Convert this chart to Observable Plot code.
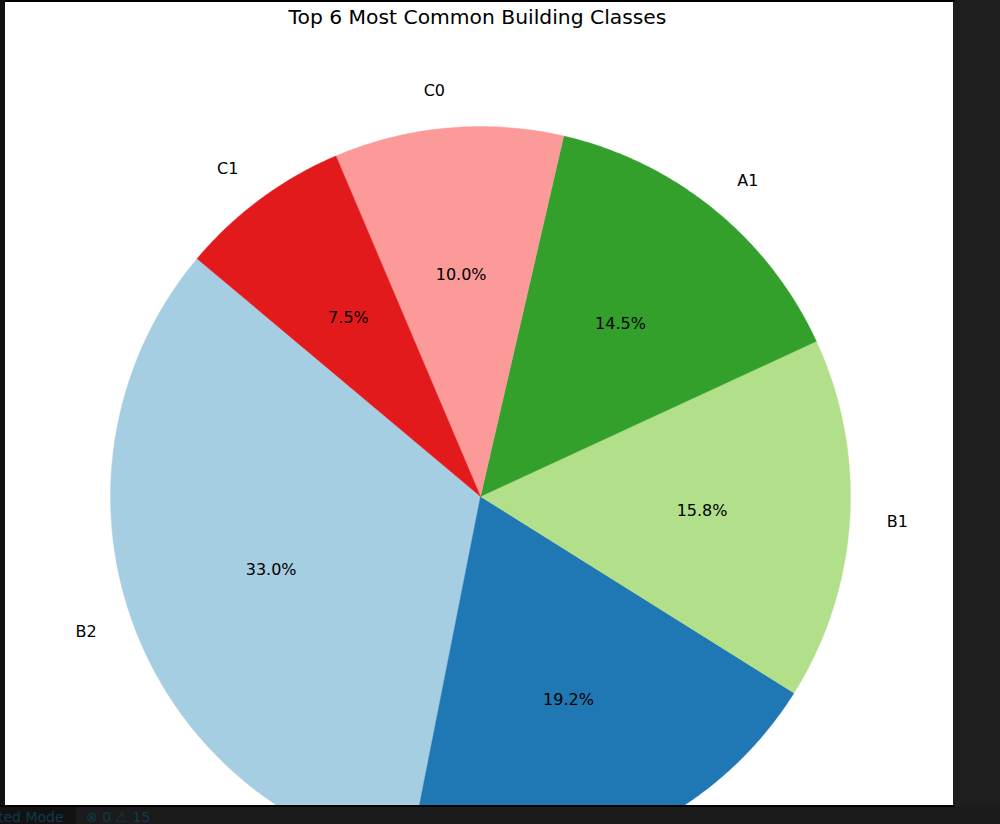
<!DOCTYPE html>
<html>
<head>
<meta charset="utf-8">
<script src="https://cdn.jsdelivr.net/npm/d3@7"></script>
<script src="https://cdn.jsdelivr.net/npm/@observablehq/plot@0.6"></script>
<style>
  html, body { margin: 0; padding: 0; }
  body { width: 1000px; height: 824px; background: #1e1e1e; position: relative; overflow: hidden; font-family: "DejaVu Sans", sans-serif; }
  #topline { position: absolute; left: 0; top: 0; width: 955px; height: 2px; background: #000; }
  #leftline { position: absolute; left: 0; top: 0; width: 5px; height: 807px; background: #111; }
  #panel { position: absolute; left: 5px; top: 2px; width: 948px; height: 803px; background: #fff; overflow: hidden; }
  #title { height: 32px; line-height: 31px; text-align: center; font-size: 20.3px; color: #000; padding-right: 3px; }
  #bottomline { position: absolute; left: 0; top: 805px; width: 955px; height: 2px; background: #000; }
  #status { position: absolute; left: 0; top: 807px; width: 1000px; height: 17px; background: #1b1b1b; font-size: 14px; line-height: 20px; color: #0e3a4c; overflow: hidden; }
  #status .a { position: absolute; left: 0; top: 0; width: 76px; height: 17px; background: #121212; overflow: hidden; }
  #status .a span { position: absolute; left: -2px; white-space: nowrap; }
  #status .b { position: absolute; left: 86px; top: 0; white-space: nowrap; }
  svg { display: block; }
</style>
</head>
<body>
<div id="topline"></div>
<div id="leftline"></div>
<div id="panel">
  <div id="title">Top 6 Most Common Building Classes</div>
  <div id="chart"></div>
</div>
<div id="bottomline"></div>
<div id="status"><div class="a"><span>ted Mode</span></div><div class="b">⊗ 0 ⚠ 15</div></div>
<script>
// Data
const classes = ["B2", "B3", "B1", "A1", "C0", "C1"];
const shares = [33.0, 19.2, 15.8, 14.5, 10.0, 7.5];
const colors = ["#a6cee3", "#1f78b4", "#b2df8a", "#33a02c", "#fb9a99", "#e31a1c"];
const startAngle = 140; // degrees, counterclockwise from +x

// Geometry in unit-radius coordinates
const W = 948, H = 771;
const cx = 475, cy = 462, R = 370;
const total = d3.sum(shares);
let a = startAngle;
const slices = classes.map((c, i) => {
  const span = shares[i] / total * 360;
  const s = {label: c, a0: a, a1: a + span, pct: shares[i]};
  a += span;
  return s;
});
const rad = d => d * Math.PI / 180;
const polyPts = [];
for (const s of slices) {
  polyPts.push({label: s.label, x: 0, y: 0});
  const n = Math.max(2, Math.ceil((s.a1 - s.a0) / 0.5));
  for (let k = 0; k <= n; k++) {
    const t = rad(s.a0 + (s.a1 - s.a0) * k / n);
    polyPts.push({label: s.label, x: Math.cos(t), y: Math.sin(t)});
  }
  polyPts.push({label: s.label, x: 0, y: 0});
}
// labels that fall inside the visible frame (the B3 label lies below the cropped bottom edge)
const labelPts = slices.map(s => {
  const m = rad((s.a0 + s.a1) / 2);
  return {label: s.label, x: 1.1 * Math.cos(m), y: 1.1 * Math.sin(m)};
}).filter(d => d.y > -(H - cy) / R);
const pctPts = slices.map(s => {
  const m = rad((s.a0 + s.a1) / 2);
  return {text: s.pct.toFixed(1) + "%", x: 0.6 * Math.cos(m), y: 0.6 * Math.sin(m)};
});

const chart = Plot.plot({
  width: W,
  height: H,
  margin: 0,
  style: {background: "white", fontFamily: "DejaVu Sans, sans-serif", overflow: "visible"},
  x: {domain: [-cx / R, (W - cx) / R], axis: null},
  y: {domain: [-(H - cy) / R, cy / R], axis: null},
  color: {domain: classes, range: colors},
  marks: [
    Plot.line(polyPts, {x: "x", y: "y", z: "label", fill: "label", stroke: "label", strokeWidth: 0.4, curve: "linear"}),
    Plot.text(labelPts.filter(d => d.x < 0), {x: "x", y: "y", text: "label", textAnchor: "end", fontSize: 16, fill: "black"}),
    Plot.text(labelPts.filter(d => d.x >= 0), {x: "x", y: "y", text: "label", textAnchor: "start", fontSize: 16, fill: "black"}),
    Plot.text(pctPts, {x: "x", y: "y", text: "text", textAnchor: "middle", fontSize: 16, fill: "black"})
  ]
});
document.getElementById("chart").appendChild(chart);
</script>
</body>
</html>
